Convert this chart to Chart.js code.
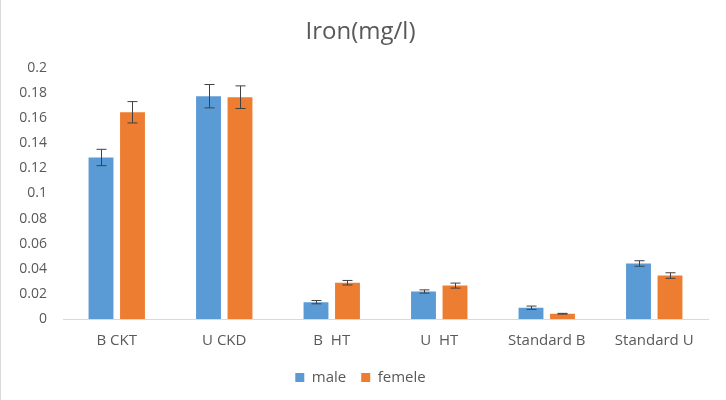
<!DOCTYPE html>
<html>
<head>
<meta charset="utf-8">
<script src="https://cdn.jsdelivr.net/npm/chart.js@4"></script>
<style>
  html, body { margin: 0; padding: 0; background: #fff; }
  #wrap { width: 725px; height: 400px; position: relative; border-left: 1px solid #d9d9d9; }
</style>
</head>
<body>
<div id="wrap"><canvas id="myChart"></canvas></div>
<script>
// data
const categories = ["B CKT", "U CKD", "B  HT", "U  HT", "Standard B", "Standard U"];
const maleValues = [0.1286, 0.1774, 0.0134, 0.0219, 0.0090, 0.0442];
const femaleValues = [0.1646, 0.1766, 0.0289, 0.0266, 0.0042, 0.0346];
const maleErrors = [0.0065, 0.0093, 0.0013, 0.0013, 0.0013, 0.0022];
const femaleErrors = [0.0085, 0.0090, 0.0018, 0.0020, 0.0003, 0.0022];
const yTicks = [0, 0.02, 0.04, 0.06, 0.08, 0.1, 0.12, 0.14, 0.16, 0.18, 0.2];

const textColor = "#595959";
const font = "'Open Sans', 'Noto Sans', sans-serif";

// draws +/- error bars on top of each bar
const errorBars = {
  id: "errorBars",
  afterDatasetsDraw(chart) {
    const ctx = chart.ctx;
    const y = chart.scales.y;
    ctx.save();
    ctx.strokeStyle = "#404040";
    ctx.lineWidth = 1;
    chart.data.datasets.forEach((ds, i) => {
      const meta = chart.getDatasetMeta(i);
      meta.data.forEach((bar, j) => {
        const v = ds.data[j];
        const e = ds.errors[j];
        const top = y.getPixelForValue(v + e);
        const bot = y.getPixelForValue(v - e);
        const x = Math.round(bar.x) + 0.5;
        ctx.beginPath();
        ctx.moveTo(x, top); ctx.lineTo(x, bot);
        ctx.moveTo(x - 5, top); ctx.lineTo(x + 5, top);
        ctx.moveTo(x - 5, bot); ctx.lineTo(x + 5, bot);
        ctx.stroke();
      });
    });
    ctx.restore();
  }
};

const ctx = document.getElementById("myChart").getContext("2d");
const myChart = new Chart(ctx, {
  type: "bar",
  data: {
    labels: categories,
    datasets: [
      {
        label: "male",
        data: maleValues,
        errors: maleErrors,
        backgroundColor: "#5b9bd5",
        barPercentage: 0.79,
        categoryPercentage: 0.586,
      },
      {
        label: "femele",
        data: femaleValues,
        errors: femaleErrors,
        backgroundColor: "#ed7d31",
        barPercentage: 0.79,
        categoryPercentage: 0.586,
      },
    ],
  },
  options: {
    responsive: true,
    maintainAspectRatio: false,
    animation: false,
    layout: { padding: { left: 12, right: 18, top: 8, bottom: 5 } },
    scales: {
      x: {
        grid: { display: false },
        border: { display: true, color: "#d9d9d9" },
        ticks: { color: textColor, font: { family: font, size: 15 }, padding: 5 },
      },
      y: {
        min: 0,
        max: 0.2,
        grid: { display: false },
        border: { display: false },
        afterBuildTicks(axis) {
          axis.ticks = yTicks.map(v => ({ value: v }));
        },
        afterFit(axis) {
          axis.width = 50;
        },
        ticks: {
          color: textColor,
          font: { family: font, size: 14 },
          padding: 8,
          callback: v => String(parseFloat(v.toFixed(2))),
        },
      },
    },
    plugins: {
      title: {
        display: true,
        text: "Iron(mg/l)",
        color: textColor,
        font: { family: font, size: 24, weight: "normal" },
        padding: { top: 10, bottom: 21 },
      },
      legend: {
        display: true,
        position: "bottom",
        labels: {
          color: textColor,
          font: { family: font, size: 15 },
          boxWidth: 9,
          boxHeight: 9,
          padding: 15,
        },
      },
      tooltip: { enabled: false },
    },
  },
  plugins: [errorBars],
});
</script>
</body>
</html>
